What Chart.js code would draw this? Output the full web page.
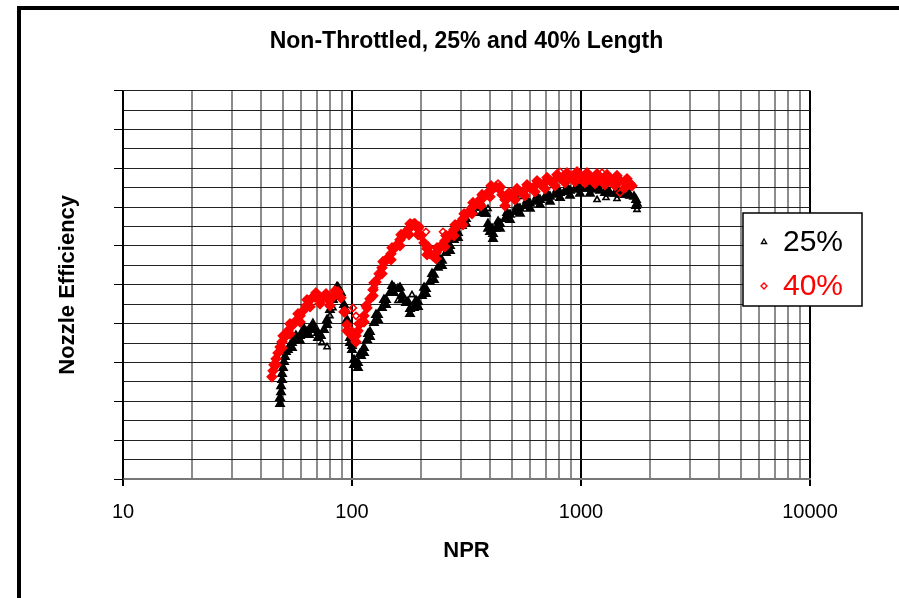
<!DOCTYPE html>
<html>
<head>
<meta charset="utf-8">
<script src="https://cdn.jsdelivr.net/npm/chart.js@4.4.0/dist/chart.umd.min.js"></script>
<style>
  html, body { margin: 0; padding: 0; background: #fff; }
  canvas { display: block; }
</style>
</head>
<body>
<canvas id="npChart" width="899" height="598"></canvas>
<script>
// 25% length, NPR / nozzle efficiency (middle of band, lower edge, upper edge, then scattered points)
var npr25 = [48.5,48.5,49.0,49.0,49.5,49.5,50.0,50.5,51.0,51.5,52.5,53.6,54.7,56.4,58.1,59.3,61.1,63.0,64.9,66.9,
  68.9,71.0,73.2,75.5,77.8,80.1,82.6,85.1,86.9,89.5,92.3,95.1,98.0,100.0,102.0,104.1,106.2,109.5,112.8,116.3,
  119.8,124.8,129.9,135.2,140.8,146.5,152.5,158.8,165.3,172.1,179.2,186.6,194.2,202.2,210.4,219.1,228.0,237.4,247.2,257.3,
  267.9,278.9,290.3,302.2,314.6,327.6,341.1,355.1,369.6,380.9,392.6,400.5,412.8,425.4,443.0,465.8,489.7,514.9,541.4,569.4,
  598.7,629.6,662.2,696.3,732.2,770.0,809.7,851.4,895.4,941.5,990,1041,1095,1151,1211,1273,1339,1408,1480,1556,
  1637,1704,1739,1756,
  54.7,59.3,64.9,71.0,77.8,85.1,92.3,98.0,102.0,106.2,112.8,119.8,129.9,140.8,152.5,165.3,179.2,194.2,210.4,228.0,
  247.2,267.9,290.3,314.6,341.1,369.6,392.6,412.8,443.0,489.7,541.4,598.7,662.2,732.2,809.7,895.4,990,1095,1739,
  56.9,61.7,67.5,81.8,94.1,100.0,108.4,117.5,127.3,137.9,149.5,162.0,175.6,190.3,206.3,223.6,242.3,262.6,284.5,308.4,
  334.2,362.2,384.8,408.7,434.2,475.3,525.4,581.0,642.6,710.5,785.8,868.7,960.5,1062,1175,1299,1436,1588,
  73.9,77.8,71.0,80.1,82.6,86.0,158.8,182.8,392.6,541.4,1175,1286,1436,1637,1756];
var eff25 = [0.8387,0.8418,0.8448,0.8479,0.8510,0.8541,0.8572,0.8603,0.8629,0.8655,0.8665,0.8686,0.8701,0.8711,0.8727,0.8737,0.8747,0.8758,0.8768,0.8778,
  0.8768,0.8753,0.8737,0.8768,0.8820,0.8871,0.8923,0.8964,0.8985,0.8959,0.8897,0.8820,0.8727,0.8665,0.8613,0.8588,0.8598,0.8634,0.8675,0.8716,
  0.8758,0.8804,0.8845,0.8881,0.8923,0.8959,0.8985,0.8979,0.8948,0.8907,0.8876,0.8881,0.8912,0.8943,0.8979,0.9015,0.9052,0.9088,0.9124,0.9165,
  0.9201,0.9232,0.9268,0.9304,0.9340,0.9371,0.9397,0.9412,0.9397,0.9366,0.9314,0.9273,0.9263,0.9289,0.9314,0.9340,0.9361,0.9376,0.9392,0.9407,
  0.9418,0.9428,0.9438,0.9448,0.9454,0.9464,0.9474,0.9479,0.9485,0.9490,0.9495,0.9495,0.9495,0.9490,0.9485,0.9474,0.9469,0.9469,0.9464,0.9464,
  0.9459,0.9454,0.9438,0.9418,
  0.8675,0.8711,0.8742,0.8727,0.8794,0.8938,0.8871,0.8701,0.8588,0.8572,0.8649,0.8732,0.8820,0.8897,0.8959,0.8923,0.8851,0.8887,0.8954,0.9026,
  0.9098,0.9175,0.9242,0.9314,0.9371,0.9371,0.9289,0.9237,0.9289,0.9335,0.9366,0.9392,0.9412,0.9428,0.9448,0.9459,0.9469,0.9469,0.9407,
  0.8737,0.8773,0.8799,0.8928,0.8866,0.8686,0.8644,0.8747,0.8845,0.8923,0.8995,0.8985,0.8912,0.8918,0.8985,0.9057,0.9129,0.9201,0.9273,0.9345,
  0.9407,0.9428,0.9366,0.9289,0.9325,0.9371,0.9402,0.9433,0.9454,0.9469,0.9490,0.9500,0.9510,0.9515,0.9510,0.9495,0.9490,0.9485,
  0.8701,0.8680,0.8758,0.8840,0.8881,0.8995,0.8918,0.8948,0.9392,0.9454,0.9438,0.9448,0.9443,0.9459,0.9387];
var scatter25 = 15; // last points of the 25% lists lie off the band

// 40% length
var npr40 = [44.7,45.2,45.6,46.6,47.5,48.5,49.5,51.0,52.5,54.7,56.9,59.3,61.1,63.0,64.9,66.9,68.9,71.0,73.2,75.5,
  77.8,80.1,82.6,85.1,86.9,89.5,92.3,95.1,98.0,101.0,104.1,106.2,109.5,112.8,116.3,119.8,123.5,127.3,131.2,135.2,
  139.3,143.6,148.0,152.5,157.2,162.0,167.0,172.1,177.4,182.8,188.4,194.2,200.1,206.3,212.6,219.1,225.8,232.8,239.9,247.2,
  254.7,262.6,270.6,278.9,287.4,296.2,305.3,314.6,324.3,334.2,344.4,355.1,365.9,377.1,388.7,400.5,412.8,425.4,438.5,451.9,
  465.8,480.0,494.8,514.9,541.4,569.4,598.7,629.6,662.2,696.3,732.2,770.0,809.7,851.4,895.4,941.5,990,1041,1095,1151,
  1211,1273,1339,1408,1480,1556,1637,1670,
  46.6,49.5,53.6,59.3,65.6,72.5,80.1,95.1,104.1,112.8,123.5,135.2,148.0,162.0,177.4,194.2,212.6,232.8,254.7,278.9,
  305.3,334.2,365.9,400.5,465.8,514.9,569.4,629.6,696.3,770.0,851.4,941.5,1041,1151,1273,1408,1556,
  50.0,53.6,58.1,63.6,69.6,77.0,84.3,93.2,100.0,107.3,115.1,124.8,136.6,149.5,163.7,179.2,196.1,214.7,235.1,257.3,
  281.8,308.4,337.6,369.6,404.6,443.0,485.0,525.4,581.0,642.6,710.5,785.8,868.7,960.5,1062,1175,1299,1436,1588,
  124.8,129.9,210.4,249.7,186.6,434.2,809.7,1235,1480,101.0,104.1];
var eff40 = [0.8526,0.8557,0.8588,0.8619,0.8649,0.8680,0.8706,0.8732,0.8763,0.8789,0.8814,0.8840,0.8866,0.8892,0.8918,0.8933,0.8938,0.8933,0.8928,0.8938,
  0.8928,0.8923,0.8938,0.8954,0.8964,0.8933,0.8861,0.8794,0.8753,0.8732,0.8737,0.8763,0.8804,0.8840,0.8881,0.8928,0.8974,0.9015,0.9057,0.9088,
  0.9119,0.9139,0.9160,0.9186,0.9206,0.9232,0.9253,0.9273,0.9289,0.9309,0.9314,0.9289,0.9253,0.9216,0.9186,0.9160,0.9149,0.9165,0.9186,0.9206,
  0.9227,0.9247,0.9263,0.9284,0.9304,0.9320,0.9340,0.9361,0.9376,0.9397,0.9412,0.9428,0.9438,0.9454,0.9469,0.9485,0.9495,0.9505,0.9495,0.9464,
  0.9438,0.9448,0.9459,0.9469,0.9479,0.9490,0.9500,0.9510,0.9521,0.9526,0.9536,0.9541,0.9552,0.9557,0.9557,0.9562,0.9562,0.9557,0.9552,0.9552,
  0.9546,0.9546,0.9541,0.9541,0.9536,0.9531,0.9521,0.9510,
  0.8588,0.8675,0.8747,0.8809,0.8887,0.8902,0.8892,0.8763,0.8706,0.8809,0.8943,0.9057,0.9129,0.9201,0.9258,0.9258,0.9155,0.9134,0.9196,0.9253,
  0.9309,0.9366,0.9407,0.9454,0.9407,0.9438,0.9459,0.9479,0.9495,0.9510,0.9526,0.9531,0.9526,0.9521,0.9515,0.9510,0.9500,
  0.8737,0.8799,0.8851,0.8923,0.8959,0.8954,0.8969,0.8861,0.8758,0.8799,0.8892,0.9010,0.9119,0.9191,0.9258,0.9314,0.9299,0.9196,0.9191,0.9253,
  0.9309,0.9366,0.9423,0.9464,0.9510,0.9505,0.9474,0.9495,0.9515,0.9536,0.9552,0.9567,0.9577,0.9582,0.9577,0.9572,0.9567,0.9562,0.9546,
  0.8985,0.9036,0.9273,0.9273,0.9320,0.9521,0.9582,0.9577,0.9474,0.8881,0.8840];
var scatter40 = 11;

var seriesLabels = ['25%', '40%'];
var decadeTicks = [10, 100, 1000, 10000];
var minorSteps = [2, 3, 4, 5, 6, 7, 8, 9];

var xTickValues = [];
decadeTicks.forEach(function (d, i) {
    xTickValues.push(d);
    if (i < decadeTicks.length - 1) minorSteps.forEach(function (m) { xTickValues.push(d * m); });
});

function pts(xs, ys) {
    return xs.map(function (x, i) { return {x: x, y: ys[i]}; });
}
function isDecade(v) {
    return decadeTicks.indexOf(v) >= 0;
}
// dense band points look solid, the stray ones stay small and hollow
function bandFill(color, total, stray) {
    return function (c) { return c.dataIndex < total - stray ? color : 'rgba(0,0,0,0)'; };
}
function bandRadius(total, stray) {
    return function (c) { return c.dataIndex < total - stray ? 4.7 : 3.5; };
}

var FONT = 'Arial, "Liberation Sans", sans-serif';

var framePlugin = {
    id: 'frame',
    beforeDraw: function (chart) {
        var c = chart.ctx;
        c.save();
        c.fillStyle = '#fff';
        c.fillRect(0, 0, chart.width, chart.height);
        c.fillStyle = '#000';
        c.fillRect(17, 6, chart.width - 17, 4);
        c.fillRect(17, 6, 4, chart.height - 6);
        c.restore();
    },
    afterDraw: function (chart) {
        var c = chart.ctx;
        c.save();
        c.fillStyle = '#fff';
        c.fillRect(743, 213, 119, 93);
        c.strokeStyle = '#000';
        c.lineWidth = 1.5;
        c.strokeRect(743, 213, 119, 93);
        c.font = '30px ' + FONT;
        c.textBaseline = 'middle';
        chart.data.datasets.forEach(function (ds, i) {
            var y = 242 + i * 44;
            c.strokeStyle = ds.borderColor;
            c.fillStyle = 'rgba(0,0,0,0)';
            c.lineWidth = 1.3;
            Chart.helpers.drawPoint(c, {pointStyle: ds.pointStyle, radius: 3, borderWidth: 1.3, rotation: 0}, 764, y);
            c.fillStyle = ds.borderColor;
            c.fillText(ds.label, 783, y + 1);
        });
        c.restore();
    }
};

var ctx = document.getElementById('npChart').getContext('2d');
var chart = new Chart(ctx, {
    type: 'scatter',
    data: {
        datasets: [{
            label: seriesLabels[0],
            data: pts(npr25, eff25),
            pointStyle: 'triangle',
            pointRadius: bandRadius(npr25.length, scatter25),
            borderWidth: 1.6,
            borderColor: '#000000',
            pointBackgroundColor: bandFill('#000000', npr25.length, scatter25),
            order: 1
        }, {
            label: seriesLabels[1],
            data: pts(npr40, eff40),
            pointStyle: 'rectRot',
            pointRadius: bandRadius(npr40.length, scatter40),
            borderWidth: 1.6,
            borderColor: '#ff0000',
            pointBackgroundColor: bandFill('#ff0000', npr40.length, scatter40),
            order: 0
        }]
    },
    options: {
        responsive: false,
        animation: false,
        layout: { padding: { top: 0, left: 0, right: 89, bottom: 0 } },
        plugins: {
            legend: { display: false },
            tooltip: { enabled: false },
            title: {
                display: true,
                fullSize: false,
                text: 'Non-Throttled, 25% and 40% Length',
                color: '#000',
                font: { family: FONT, size: 23, weight: 'bold' },
                padding: { top: 28, bottom: 35 }
            }
        },
        scales: {
            x: {
                type: 'logarithmic',
                min: 10,
                max: 10000,
                afterBuildTicks: function (axis) {
                    axis.ticks = xTickValues.map(function (v) { return {value: v}; });
                },
                afterFit: function (axis) { axis.height = 119; },
                ticks: {
                    autoSkip: false,
                    maxRotation: 0,
                    padding: 14,
                    color: '#000',
                    font: { family: FONT, size: 20 },
                    callback: function (v) { return isDecade(v) ? String(v) : ''; }
                },
                grid: {
                    color: function (c) { return c.tick && isDecade(c.tick.value) ? '#000' : '#8c8c8c'; },
                    lineWidth: 2,
                    tickColor: function (c) { return c.tick && isDecade(c.tick.value) ? '#000' : 'rgba(0,0,0,0)'; },
                    tickLength: 7
                },
                border: { color: '#777', width: 2 },
                title: {
                    display: true,
                    text: 'NPR',
                    color: '#000',
                    font: { family: FONT, size: 22, weight: 'bold' },
                    padding: { top: 0, bottom: 34 }
                }
            },
            y: {
                min: 0.8,
                max: 1.0,
                afterFit: function (axis) { axis.width = 123; },
                ticks: {
                    stepSize: 0.01,
                    callback: function () { return ''; }
                },
                grid: {
                    color: '#222',
                    lineWidth: 1,
                    tickColor: function (c) {
                        return c.tick && Math.round(c.tick.value * 100) % 2 === 0 ? '#000' : 'rgba(0,0,0,0)';
                    },
                    tickLength: 9
                },
                border: { color: '#000', width: 1.5 },
                title: {
                    display: true,
                    text: 'Nozzle Efficiency',
                    color: '#000',
                    font: { family: FONT, size: 22, weight: 'bold' },
                    padding: { top: 55, bottom: 0 }
                }
            }
        }
    },
    plugins: [framePlugin]
});
</script>
</body>
</html>
